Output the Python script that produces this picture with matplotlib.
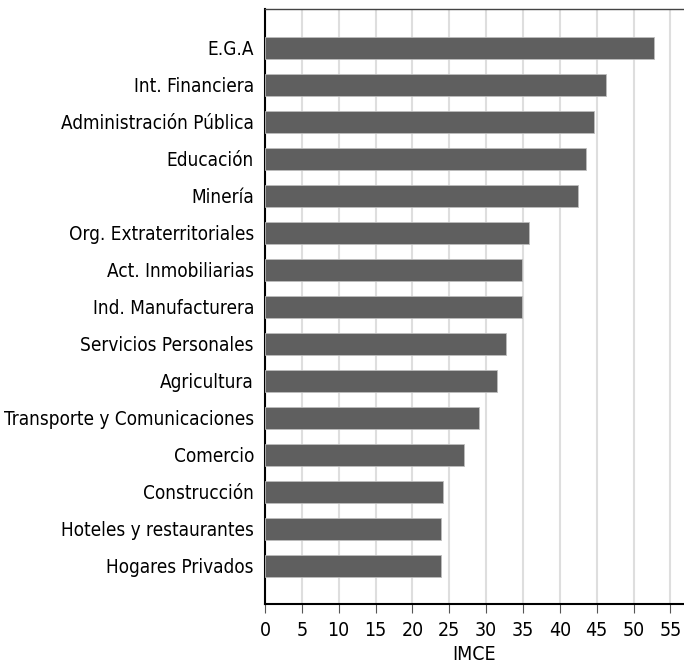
import matplotlib
matplotlib.use("Agg")
from matplotlib import pyplot as plt

sectores = [
    "E.G.A",
    "Int. Financiera",
    "Administración Pública",
    "Educación",
    "Minería",
    "Org. Extraterritoriales",
    "Act. Inmobiliarias",
    "Ind. Manufacturera",
    "Servicios Personales",
    "Agricultura",
    "Transporte y Comunicaciones",
    "Comercio",
    "Construcción",
    "Hoteles y restaurantes",
    "Hogares Privados",
]
imce = [52.8, 46.3, 44.6, 43.6, 42.5, 35.8, 34.9, 34.9, 32.7, 31.5,
        29.0, 27.0, 24.2, 23.9, 23.9]
ticks = list(range(0, 56, 5))

plt.rcParams["font.family"] = ["DejaVu Sans"]
plt.rcParams["font.stretch"] = "condensed"

fig = plt.figure(figsize=(6.84, 6.68), dpi=100)
ax = fig.add_axes([265 / 684, 64 / 668, 1 - 265 / 684, 595 / 668])

pos = list(range(len(sectores)))
ax.barh(pos, imce, height=0.6, color="#5f5f5f", edgecolor="#bdbdbd",
        linewidth=0.6, zorder=3)
ax.set_yticks(pos)
ax.set_yticklabels(sectores, fontsize=13.6)
ax.set_ylim(len(sectores) - 1 + 1.03, -1.05)
ax.set_xlim(0, 56.85)
ax.set_xticks(ticks)
ax.tick_params(axis="x", labelsize=14, length=6.5, color="#555555", pad=6)
ax.tick_params(axis="y", length=0, pad=8)
ax.set_xlabel("IMCE", fontsize=14, labelpad=3)
ax.grid(axis="x", color="#dedede", linewidth=1.5, zorder=0)

for s in ["left", "bottom"]:
    ax.spines[s].set_color("black")
    ax.spines[s].set_linewidth(1.5)
ax.spines["top"].set_color("#444444")
ax.spines["top"].set_linewidth(1.0)
ax.spines["right"].set_visible(False)

fig.savefig("out.png", dpi=100)
